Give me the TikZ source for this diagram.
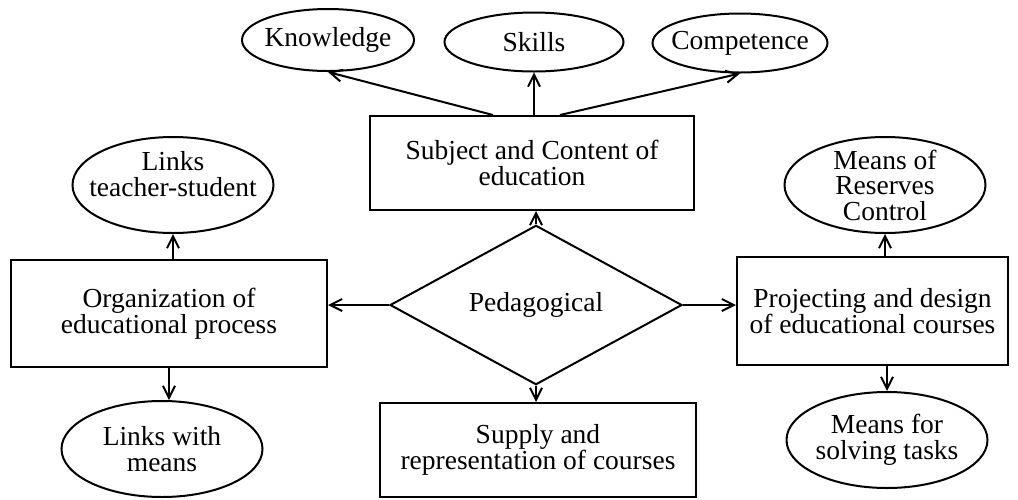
\documentclass[tikz,border=0pt]{standalone}
\usepackage{fontspec}
\setmainfont{Liberation Serif}
\usetikzlibrary{arrows.meta,positioning,shapes.geometric}

\begin{document}
\begin{tikzpicture}[x=1pt,y=-1pt,
base/.style={draw,line width=2pt,font=\fontsize{27.5}{25.5}\selectfont,align=center,inner sep=0pt},
box/.style={base,rectangle},
oval/.style={base,ellipse,inner xsep=-25pt,inner ysep=-10pt,minimum width=201pt,minimum height=96pt},
rhomb/.style={base,diamond,minimum width=292pt,minimum height=94pt},
arr/.style={-{Straight Barb[length=12pt,width=12pt,line width=2pt]},line width=2pt}]
\useasboundingbox (0,0) rectangle (1018,499);
\node[rhomb] (ped) at (536,305) {Pedagogical};
\node[box,minimum width=324pt,minimum height=94pt] (subj) at (532,163) {Subject and Content of\\education};
\node[box,minimum width=316pt,minimum height=107pt] (org) at (169,313.5) {Organization of\\educational process};
\node[box,minimum width=271pt,minimum height=108pt] (proj) at (872.5,311) {Projecting and design\\of educational courses};
\node[box,minimum width=316pt,minimum height=94pt] (sup) at (538,450) {Supply and\\representation of courses};
\node[oval,minimum width=172pt,minimum height=62pt] (know) at (328,40) {Knowledge};
\node[oval,minimum width=179pt,minimum height=59pt] (skl) at (534,42) {Skills};
\node[oval,minimum width=175pt,minimum height=59pt] (comp) at (740,43) {Competence};
\node[oval,text depth=22pt] (lts) at (173,185) {Links\\teacher-student};
\node[oval] (lwm) at (162,449) {Links with\\means};
\node[oval] (mrc) at (885,185) {Means of\\Reserves\\Control};
\node[oval] (mst) at (887,440) {Means for\\solving tasks};
\draw[arr] ([xshift=-39pt]subj.north)--(know.south);\draw[arr] (subj.north -| skl.south)--(skl.south);
\draw[arr] ([xshift=28pt]subj.north)--(comp.south);
\draw[arr] (ped.north)--(ped.north |- subj.south);\draw[arr] (ped.south)--(ped.south |- sup.north);
\draw[arr] (ped.west)--(ped.west -| org.east);\draw[arr] (ped.east)--(ped.east -| proj.west);
\draw[arr] (org.north -| lts.south)--(lts.south);\draw[arr] (org.south)--(org.south |- lwm.north);
\draw[arr] (proj.north -| mrc.south)--(mrc.south);\draw[arr] (proj.south -| mst.north)--(mst.north);
\end{tikzpicture}
\end{document}
